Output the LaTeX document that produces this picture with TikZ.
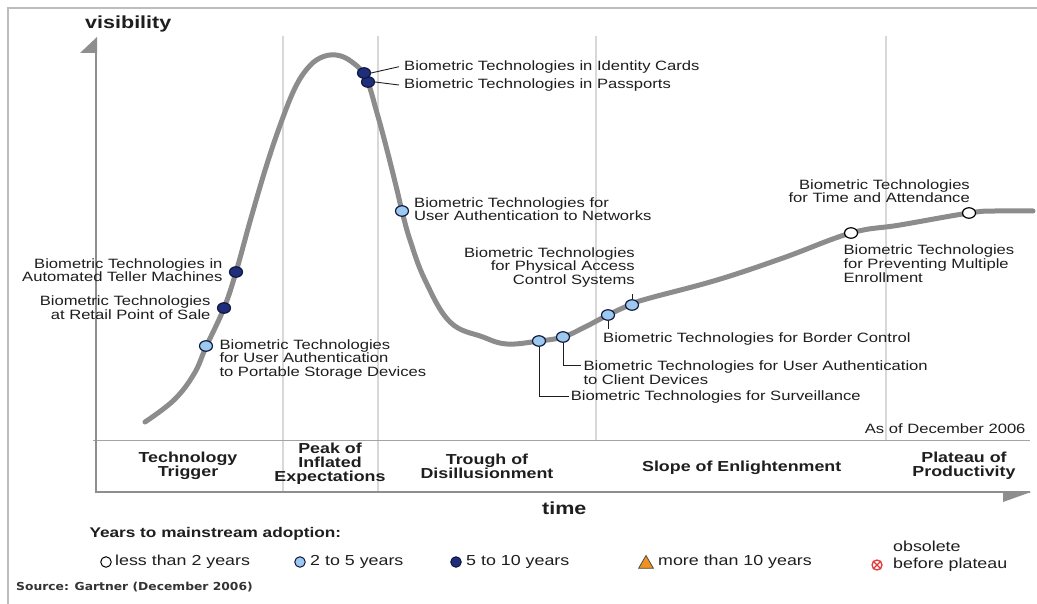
\documentclass[tikz,border=0pt]{standalone}
\usepackage{fontspec}
\setmainfont{Liberation Sans}
\newfontfamily\lbl[FakeStretch=1.23]{Liberation Sans}
\newfontfamily\srcfont[FakeStretch=1.12]{DejaVu Sans}
\usetikzlibrary{shapes.geometric,calc}

\definecolor{curvegray}{HTML}{8C8C8C}
\definecolor{sepgray}{HTML}{D8D8D8}
\definecolor{framegray}{HTML}{BDBDBD}
\definecolor{axisgray}{HTML}{8E8E8E}
\definecolor{navy}{HTML}{1F2E7A}
\definecolor{navyedge}{HTML}{0E1640}
\definecolor{skyblue}{HTML}{9DC9EE}
\definecolor{inkgray}{HTML}{1E1E1E}
\definecolor{amber}{HTML}{F0921E}
\definecolor{alarm}{HTML}{E23A3A}

\tikzset{
  lbltext/.style={font=\lbl\fontsize{13.5}{13.6}\selectfont, text=inkgray, inner sep=0pt},
  legtext/.style={font=\lbl\fontsize{14.5}{16.5}\selectfont, text=inkgray, inner sep=0pt, anchor=west},
  phasetext/.style={font=\lbl\bfseries\fontsize{14.5}{14}\selectfont, text=inkgray, inner sep=0pt, align=center},
  axistitle/.style={font=\lbl\bfseries\fontsize{17.5}{17.5}\selectfont, text=inkgray, inner sep=0pt, anchor=base west},
  dotbase/.style={ellipse, draw=navyedge, line width=1.2pt, minimum width=13pt, minimum height=10.5pt, inner sep=0pt},
  dotlate/.style={dotbase, fill=navy},
  dotmid/.style={dotbase, fill=skyblue},
  dotsoon/.style={dotbase, fill=white, draw=black},
  keymark/.style={circle, line width=1pt, minimum size=10.5pt, inner sep=0pt},
  leadline/.style={draw=inkgray, line width=0.9pt},
  sepline/.style={draw=sepgray, line width=1.8pt},
}

\begin{document}
\begin{tikzpicture}[x=1pt,y=-1pt]
\useasboundingbox (0,0) rectangle (1037,604);
\fill[white] (0,0) rectangle (1037,604);

% outer frame (top and left edges)
\draw[framegray, line width=2.5pt] (8,604) -- (8,8) -- (1037,8);

% phase separators
\draw[sepline] (283,36) -- (283,492);
\draw[sepline] (378,36) -- (378,492);
\draw[sepline] (596,36) -- (596,440.7);
\draw[sepline] (886,36) -- (886,440.7);

% phase band and axes
\draw[axisgray!80, line width=1.3pt] (93,440.7) -- (1030,440.7);
\draw[axisgray, line width=1.5pt] (96,50) -- (96,492) -- (1030,492);
\fill[axisgray] (97,37) -- (97,53) -- (80,53) -- cycle;
\fill[axisgray] (1003,493) -- (1031,492) -- (1003,502) -- cycle;

\node[axistitle] (vis) at (85,28.3) {visibility};
\node[axistitle] (tm) at (542,514.5) {time};

% hype curve
\draw[curvegray, line width=5pt, line cap=round, line join=round]
  plot[smooth, tension=0.65] coordinates {
  (145,422) (174,400) (194,374) (206,347) (224,308) (236,272)
  (251,218) (267,164) (282,120) (295,88) (307,69) (320,58) (336,55)
  (352,62) (366,78) (377,113) (387,150) (397,190) (402,211)
  (410,240) (425,280) (450,322) (483,337) (507,344) (539,341) (563,337)
  (585,327) (608,315) (632,304) (650,298) (717,280) (783,258) (851,233)
  (900,225) (969,213) (995,211) (1033,211)};

% technologies on the curve
\node[dotmid] (por) at (206,346) {};
\node[dotlate] (ret) at (224,308) {};
\node[dotlate] (atm) at (236,272) {};
\node[dotlate] (pas) at (368,82) {};
\node[dotlate] (idc) at (364,73) {};
\node[dotmid] (net) at (402,211) {};
\node[dotmid] (sur) at (539,341) {};
\node[dotmid] (cli) at (563,337) {};
\node[dotmid] (bor) at (608,315) {};
\node[dotmid] (phy) at (632,305) {};
\node[dotsoon] (pre) at (851,233) {};
\node[dotsoon] (tim) at (969,213) {};

% labels
\node[lbltext, anchor=west] (idcT) at (404,66.7) {Biometric Technologies in Identity Cards};
\node[lbltext, anchor=west] (pasT) at (404,85) {Biometric Technologies in Passports};
\node[lbltext, anchor=west, align=left] (netT) at (414,209) {Biometric Technologies for\\User Authentication to Networks};
\node[lbltext, anchor=east, align=right] (atmT) at (222.7,270.3) {Biometric Technologies in\\Automated Teller Machines};
\node[lbltext, anchor=east, align=right] (retT) at (210.7,307.5) {Biometric Technologies\\at Retail Point of Sale};
\node[lbltext, anchor=west, align=left] (porT) at (219.3,359.5) {Biometric Technologies\\for User Authentication\\to Portable Storage Devices};
\node[lbltext, anchor=east, align=right] (phyT) at (635,267.3) {Biometric Technologies\\for Physical Access\\Control Systems};
\node[lbltext, anchor=west] (borT) at (603,339) {Biometric Technologies for Border Control};
\node[lbltext, anchor=west, align=left] (cliT) at (583.3,372.5) {Biometric Technologies for User Authentication\\to Client Devices};
\node[lbltext, anchor=west] (surT) at (570.7,396.7) {Biometric Technologies for Surveillance};
\node[lbltext, anchor=east, align=right] (timT) at (970,191) {Biometric Technologies\\for Time and Attendance};
\node[lbltext, anchor=west, align=left] (preT) at (843.3,263.7) {Biometric Technologies\\for Preventing Multiple\\Enrollment};
\node[lbltext, anchor=east] (asof) at (1025.7,428.3) {As of December 2006};

% leader lines
\draw[leadline] (idc.east) -- ([xshift=-5pt]idcT.west);
\draw[leadline] (pas.east) -- ([xshift=-5pt]pasT.west);
\draw[leadline] (sur.south) |- ([xshift=-2pt]surT.west);
\draw[leadline] (cli.south) |- ([xshift=-2pt,yshift=-5pt]cliT.north west);
\draw[leadline] (bor.south) -- ($(bor.south |- borT.north)+(0,-4)$);
\draw[leadline] (phy.north) -- ($(phy.north |- phyT.south)+(0,7)$);

% phase names
\node[phasetext] (ph1) at (188,466) {Technology\\Trigger};
\node[phasetext] (ph2) at (330,464) {Peak of\\Inflated\\Expectations};
\node[phasetext] (ph3) at (487,466) {Trough of\\Disillusionment};
\node[phasetext] (ph4) at (741.7,468) {Slope of Enlightenment};
\node[phasetext] (ph5) at (964,466) {Plateau of\\Productivity};

% legend
\node[font=\lbl\bfseries\fontsize{14}{14}\selectfont, text=inkgray, inner sep=0pt, anchor=base west] (yrs) at (89.3,537) {Years to mainstream adoption:};

\node[keymark, draw=black, fill=white] (k1) at (106,562) {};
\node[legtext] (t1) at (115,562) {less than 2 years};
\node[keymark, draw=navyedge, fill=skyblue] (k2) at (300,562) {};
\node[legtext] (t2) at (310,562) {2 to 5 years};
\node[keymark, draw=navyedge, fill=navy] (k3) at (456,562) {};
\node[legtext] (t3) at (466,562) {5 to 10 years};
\node[regular polygon, regular polygon sides=3, minimum size=17pt, inner sep=0pt, fill=amber, draw=black!70, line width=0.8pt] (k4) at (646,564) {};
\node[legtext] (t4) at (658,562) {more than 10 years};
\node[circle, draw=alarm, line width=1.3pt, minimum size=10pt, inner sep=0pt] (k5) at (877,565) {};
\draw[alarm, line width=1.1pt] (k5.north west) -- (k5.south east) (k5.north east) -- (k5.south west);
\node[legtext, align=left] (t5) at (893,556) {obsolete\\before plateau};

\node[font=\srcfont\bfseries\fontsize{11}{11}\selectfont, text=black!80, inner sep=0pt, anchor=base west] (src) at (16,590.5) {Source: Gartner (December 2006)};
\end{tikzpicture}
\end{document}
